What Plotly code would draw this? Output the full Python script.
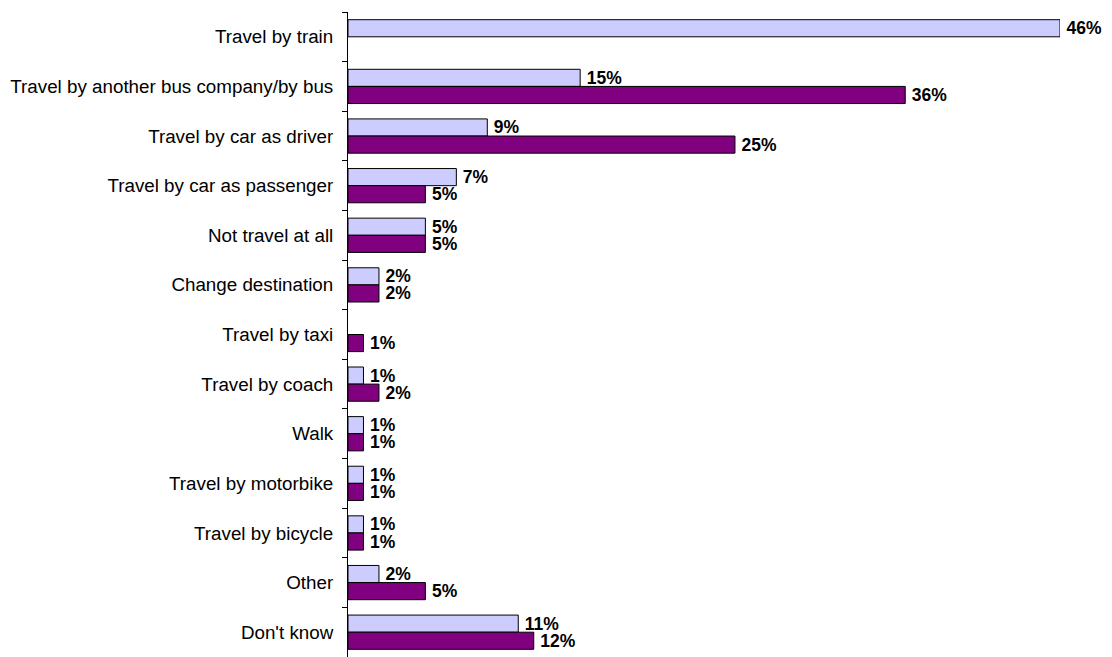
import plotly.graph_objects as go

# Survey answers: what respondents would do instead
categories = [
    "Travel by train",
    "Travel by another bus company/by bus",
    "Travel by car as driver",
    "Travel by car as passenger",
    "Not travel at all",
    "Change destination",
    "Travel by taxi",
    "Travel by coach",
    "Walk",
    "Travel by motorbike",
    "Travel by bicycle",
    "Other",
    "Don't know",
]

# Percentages for the two respondent groups (None = no answer recorded)
series_a = [46, 15, 9, 7, 5, 2, None, 1, 1, 1, 1, 2, 11]
series_b = [None, 36, 25, 5, 5, 2, 1, 2, 1, 1, 1, 5, 12]

label_font = dict(family="Liberation Sans, Arial, sans-serif", size=17.5, color="black")


def pct_labels(values):
    # thin space keeps the label a little clear of the bar end
    return ["" if v is None else f"\u2009<b>{v}%</b>" for v in values]


fig = go.Figure()
fig.add_trace(go.Bar(
    y=categories, x=series_a, orientation="h",
    marker=dict(color="#CCCCFF", line=dict(color="black", width=1)),
    text=pct_labels(series_a), textposition="outside",
    textfont=label_font, cliponaxis=False, constraintext="none",
    showlegend=False,
))
fig.add_trace(go.Bar(
    y=categories, x=series_b, orientation="h",
    marker=dict(color="#800080", line=dict(color="black", width=1)),
    text=pct_labels(series_b), textposition="outside",
    textfont=label_font, cliponaxis=False, constraintext="none",
    showlegend=False,
))

fig.update_layout(
    width=1112, height=657,
    margin=dict(l=348, r=52, t=12, b=0),
    barmode="group",
    bargap=0.31,
    bargroupgap=0,
    plot_bgcolor="white",
    paper_bgcolor="white",
    xaxis=dict(
        range=[0, 46], visible=False, showgrid=False, zeroline=False,
        fixedrange=True,
    ),
    yaxis=dict(
        autorange="reversed",
        showline=True, linecolor="black", linewidth=1,
        ticks="outside", tickson="boundaries", ticklen=5,
        tickcolor="black", tickwidth=1,
        showgrid=False,
        ticklabelstandoff=10,
        tickfont=dict(family="Liberation Sans, Arial, sans-serif", size=18.8, color="black"),
    ),
)

fig.write_html("out.html")
